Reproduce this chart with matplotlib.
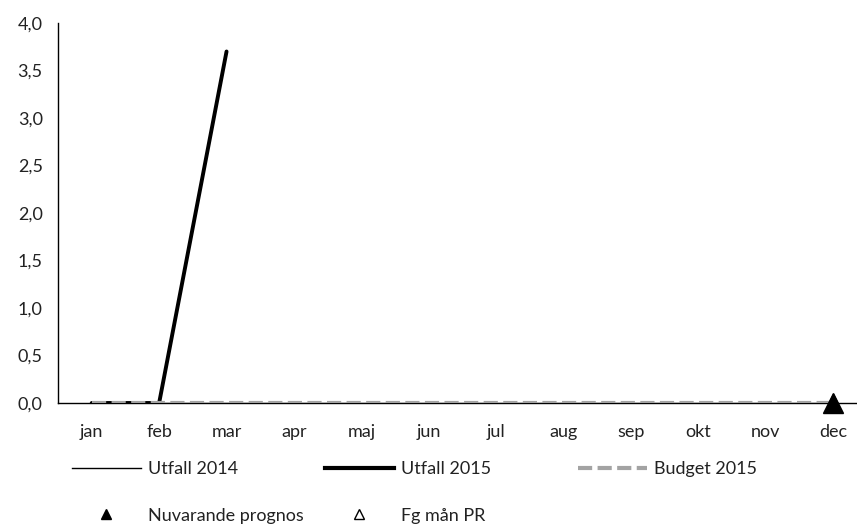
import matplotlib
matplotlib.use("Agg")
import matplotlib.pyplot as plt
from matplotlib.lines import Line2D
import numpy as np

months = ["jan", "feb", "mar", "apr", "maj", "jun", "jul", "aug", "sep", "okt", "nov", "dec"]
utfall_2014 = [0, 0, 0, 0, 0, 0, 0, 0, 0, 0, 0, 0]
utfall_2015 = [0, 0, 3.7]
budget_2015 = [0, 0, 0, 0, 0, 0, 0, 0, 0, 0, 0, 0]
nuv_prognos_month = ["dec"]
nuv_prognos = [0]
fg_man_month = ["dec"]
fg_man_pr = [0]
yticks = [0, 0.5, 1.0, 1.5, 2.0, 2.5, 3.0, 3.5, 4.0]

plt.rcParams['font.family'] = ['Lato', 'DejaVu Sans']
FS = 13

fig = plt.figure(figsize=(8.57, 5.24), dpi=100)
ax = fig.add_axes([58/857, 1-403/524, 809/857, 380/524])

x = np.arange(len(months))
idx = {m: i for i, m in enumerate(months)}

l14, = ax.plot(x, utfall_2014, color='black', lw=0.9, zorder=2)
l15, = ax.plot(x[:len(utfall_2015)], utfall_2015, color='black', lw=2.8, zorder=3,
               solid_capstyle='round')
lb, = ax.plot(x, budget_2015, color='#a3a3a3', lw=3.0, dashes=(3.4, 1.3), zorder=4)
fg, = ax.plot([idx[m] for m in fg_man_month], fg_man_pr, linestyle='none', marker='^',
              markerfacecolor='white', markeredgecolor='black', markersize=13, zorder=5)
nv, = ax.plot([idx[m] for m in nuv_prognos_month], nuv_prognos, linestyle='none', marker='^',
              color='black', markersize=14, zorder=6, clip_on=False)

ax.set_xlim(-0.5, 11.5)
ax.set_ylim(0, 4.0)
ax.set_yticks(yticks)
ax.set_yticklabels([f"{v:.1f}".replace('.', ',') for v in yticks])
ax.set_xticks(x)
ax.set_xticklabels(months)
ax.tick_params(axis='both', length=0, labelsize=FS, colors='#222222')
ax.tick_params(axis='y', pad=11)
ax.tick_params(axis='x', pad=15)
for s in ['top', 'right']:
    ax.spines[s].set_visible(False)
for s in ['left', 'bottom']:
    ax.spines[s].set_linewidth(1.0)
    ax.spines[s].set_color('black')

h14 = Line2D([], [], color='black', lw=1.0)
h15 = Line2D([], [], color='black', lw=3.0)
hb = Line2D([], [], color='#a3a3a3', lw=3.0, dashes=(3.4, 1.3))
hn = Line2D([], [], linestyle='none', marker='^', color='black', markersize=7)
hf = Line2D([], [], linestyle='none', marker='^', markerfacecolor='white',
            markeredgecolor='black', markersize=7)

common = dict(frameon=False, fontsize=FS, handlelength=3.8, handletextpad=0.4,
              labelspacing=1.7, borderaxespad=0, borderpad=0, loc='upper left')
top = 1 - 461/524
leg1 = fig.legend([h14, hn], ["Utfall 2014", "Nuvarande prognos"],
                  bbox_to_anchor=(72/857, top), **common)
leg2 = fig.legend([h15, hf], ["Utfall 2015", "Fg mån PR"],
                  bbox_to_anchor=(325/857, top), **common)
leg3 = fig.legend([hb], ["Budget 2015"],
                  bbox_to_anchor=(578/857, top), **common)
for lg in (leg1, leg2, leg3):
    for t in lg.get_texts():
        t.set_color('#222222')

fig.savefig("out.png", dpi=100)
